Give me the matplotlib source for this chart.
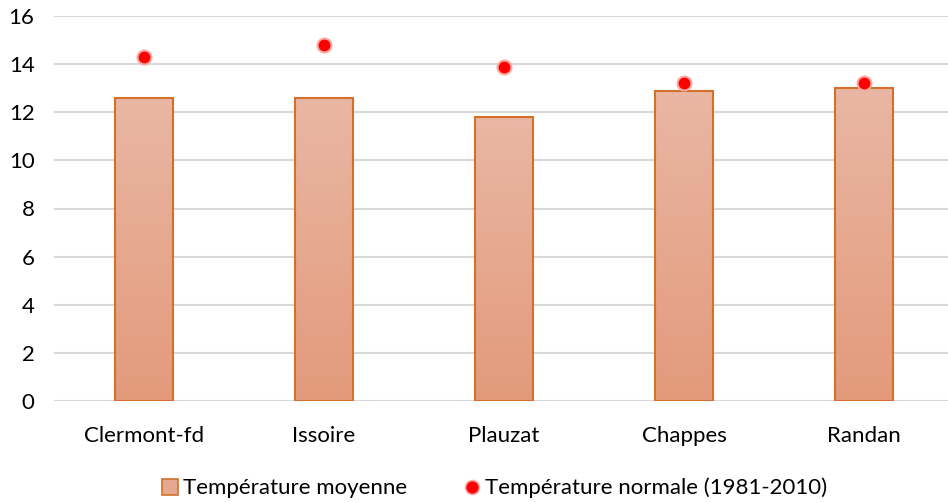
import matplotlib
matplotlib.use("Agg")
import matplotlib.pyplot as plt
import numpy as np
from matplotlib.lines import Line2D
from matplotlib.colors import LinearSegmentedColormap

categories = ["Clermont-fd", "Issoire", "Plauzat", "Chappes", "Randan"]
temp_moyenne = [12.6, 12.6, 11.8, 12.9, 13.0]
temp_normale = [14.3, 14.8, 13.9, 13.2, 13.2]
yticks = [0, 2, 4, 6, 8, 10, 12, 14, 16]

plt.rcParams['font.family'] = ['Lato', 'DejaVu Sans']

fig = plt.figure(figsize=(9.48, 5.03), dpi=100)
ax = fig.add_axes([54/948, 1-401/503, 900/948, 385/503])

x = np.arange(len(categories))
bars = ax.bar(x, temp_moyenne, width=0.32, facecolor='none', edgecolor='#D2702C',
              linewidth=1.5, zorder=3)
grad = np.linspace(0, 1, 256).reshape(-1, 1)
cmap = LinearSegmentedColormap.from_list('g', ['#E39A7C', '#E9B7A3'])
for b in bars:
    x0, y0 = b.get_x(), b.get_y()
    w, h = b.get_width(), b.get_height()
    im = ax.imshow(grad, cmap=cmap, origin='lower', aspect='auto',
                   extent=[x0, x0 + w, y0, y0 + h], zorder=2)
    im.set_clip_path(b)

ax.plot(x, temp_normale, linestyle='none', marker='o', markersize=10,
        markerfacecolor='#FF0000', markeredgecolor='#F7A8A0', markeredgewidth=1.5,
        zorder=4)

ax.set_xlim(-0.5, len(categories) - 0.5)
ax.set_ylim(0, 16)
ax.set_yticks(yticks)
ax.set_xticks(x)
ax.set_xticklabels(categories)
ax.grid(axis='y', color='#D9D9D9', linewidth=1.5, zorder=0)
ax.set_axisbelow(True)
for s in ax.spines.values():
    s.set_visible(False)
ax.tick_params(axis='both', length=0, labelsize=16, colors='black')
ax.tick_params(axis='x', pad=18)
ax.tick_params(axis='y', pad=14)

handles = [
    Line2D([], [], linestyle='none', marker='s', markersize=11,
           markerfacecolor='#E6A98F', markeredgecolor='#D2702C', markeredgewidth=1.2),
    Line2D([], [], linestyle='none', marker='o', markersize=10,
           markerfacecolor='#FF0000', markeredgecolor='#F7A8A0', markeredgewidth=1.2),
]
fig.legend(handles, ["Température moyenne", "Température normale (1981-2010)"],
           loc='center', bbox_to_anchor=(493/948, 1-488/503), ncol=2, frameon=False,
           fontsize=16, handletextpad=0.1, columnspacing=2.4, handlelength=1.0)

fig.savefig("out.png", dpi=100)
